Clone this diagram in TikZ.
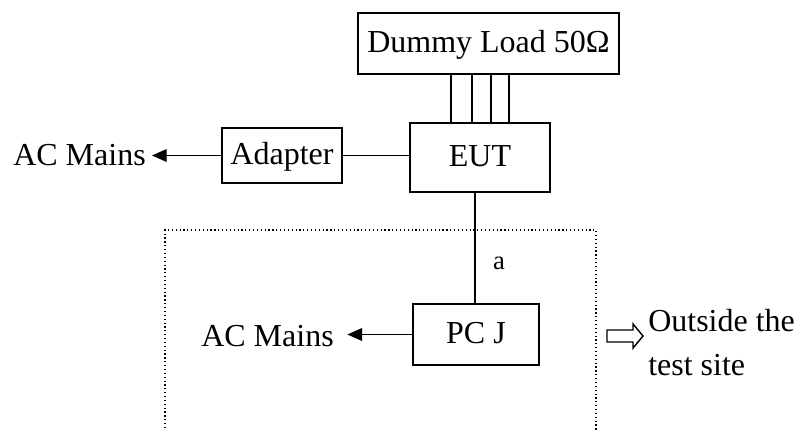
\documentclass[tikz,border=0pt]{standalone}
\usepackage{fontspec}
\setmainfont{Liberation Serif}
\usetikzlibrary{arrows.meta}
\begin{document}
\begin{tikzpicture}[x=0.75pt,y=-0.75pt,
  box/.style={draw, line width=1pt, rectangle, inner sep=0pt, text height=16pt, text depth=3pt, font=\fontsize{24}{28}\selectfont},
  lbl/.style={inner sep=0pt, font=\fontsize{24}{28}\selectfont},
  wire/.style={line width=1pt},
  arr/.style={line width=1pt, -{Triangle[length=11pt,width=9.5pt]}},
  dotbox/.style={line width=0.9pt, dotted},
  hollow/.style={line width=1.1pt, draw, fill=white}]
\useasboundingbox (0,0) rectangle (797,430);

\node[box, minimum width=261*0.75pt, minimum height=61*0.75pt] (dummy) at (488.5,43.5) {Dummy Load 50Ω};
\node[box, minimum width=140*0.75pt, minimum height=69*0.75pt] (eut) at (480,157.5) {EUT};
\node[box, minimum width=120*0.75pt, minimum height=55*0.75pt] (adapter) at (282,155.5) {Adapter};
\node[box, minimum width=126*0.75pt, minimum height=61*0.75pt] (pcj) at (476,334.5) {PC J};

\node[lbl, anchor=east] (acm1) at (146,155.5) {AC Mains};
\node[lbl, anchor=east] (acm2) at (334,336) {AC Mains};
\node[inner sep=0pt, font=\fontsize{20}{24}\selectfont] (a) at (499,263) {a};
\node[inner sep=0pt, anchor=west, align=left, font=\fontsize{24}{33}\selectfont] (out) at (648,343) {Outside the\\test site};

% four wires dummy -> EUT
\foreach \xx/\nm in {451/l1,472/l2,491/l3,509/l4}{
  \coordinate (\nm) at (\xx,0);
  \draw[wire] (dummy.south -| \nm) -- (eut.north -| \nm);
}

% adapter to EUT
\draw[wire] (adapter.east) -- (adapter.east -| eut.west);
% adapter to AC mains
\draw[arr, shorten >=4.5pt] (adapter.west) -- (acm1.east);

% EUT to PC J
\coordinate (vx) at (475,0);
\draw[wire] (eut.south -| vx) -- (pcj.north -| vx);

% PC J to AC mains
\draw[arr, shorten >=10pt] (pcj.west) -- (pcj.west -| acm2.east);

% dotted test-site boundary
\coordinate (d1) at (165,432);
\coordinate (d2) at (165,230);
\coordinate (d3) at (596,230);
\coordinate (d4) at (596,432);
\draw[dotbox] (d1) -- (d2) -- (d3) -- (d4);

% hollow arrow
\draw[hollow] (607,330) -- (633,330) -- (633,324) -- (643,336) -- (633,348) -- (633,342) -- (607,342) -- cycle;
\end{tikzpicture}
\end{document}
